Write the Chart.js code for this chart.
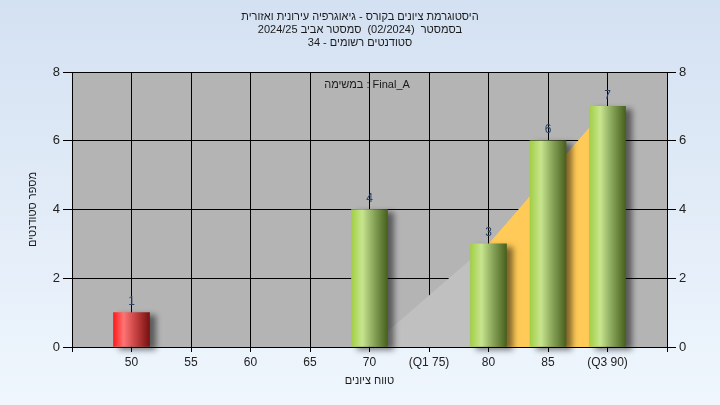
<!DOCTYPE html>
<html><head><meta charset="utf-8">
<script src="https://cdn.jsdelivr.net/npm/chart.js@4"></script>
<style>html,body{margin:0;padding:0;background:#fff}canvas{display:block}</style>
</head><body>
<canvas id="c" width="720" height="405"></canvas>
<script>
// ---- data ----
const titleLines = ['היסטוגרמת ציונים בקורס - גיאוגרפיה עירונית ואזורית', 'בסמסטר  (02/2024)  סמסטר אביב 2024/25', 'סטודנטים רשומים - 34'];
const seriesLabel = 'במשימה : Final_A';
const xAxisTitle = 'טווח ציונים';
const yAxisTitle = 'מספר סטודנטים';
const gradeValues = [50, 55, 60, 65, 70, 75, 80, 85, 90];
const gradeLabels = ['50', '55', '60', '65', '70', '(Q1 75)', '80', '85', '(Q3 90)'];
const studentCounts = [1, 0, 0, 0, 4, 0, 3, 6, 7];
const failBelow = 55;
const lowerAreaX = [70, 80];
const lowerAreaY = [0, 3];
const upperAreaX = [80, 90];
const upperAreaY = [3, 7];
const yTickValues = [0, 2, 4, 6, 8];

const FONT = "Arial, 'Liberation Sans', 'DejaVu Sans', sans-serif";
const barPoints = gradeValues.map((g, i) => ({x: g, y: studentCounts[i]})).filter(p => p.y > 0);

function barFill(c) {
  const chart = c.chart, xs = chart.scales && chart.scales.x;
  if (c.type !== 'data' || !xs || !c.raw) return '#9c4';
  const cx = xs.getPixelForValue(c.raw.x);
  if (!isFinite(cx)) return '#9c4';
  const g = chart.ctx.createLinearGradient(cx - 18, 0, cx + 18, 0);
  if (c.raw.x < failBelow) {
    g.addColorStop(0, '#ff1c1c'); g.addColorStop(0.28, '#ff7474');
    g.addColorStop(0.6, '#c84444'); g.addColorStop(1, '#781010');
  } else {
    g.addColorStop(0, '#a2cf46'); g.addColorStop(0.3, '#c8e58e');
    g.addColorStop(0.62, '#88a55a'); g.addColorStop(1, '#48601c');
  }
  return g;
}

const bgPlugin = {
  id: 'bg',
  beforeDraw(chart) {
    const c = chart.ctx, a = chart.chartArea;
    c.save();
    const g = c.createLinearGradient(0, 0, 0, chart.height);
    g.addColorStop(0, '#d4e1f2'); g.addColorStop(1, '#eff6fd');
    c.fillStyle = g; c.fillRect(0, 0, chart.width, chart.height);
    c.fillStyle = '#b4b4b4';
    c.fillRect(a.left, a.top, a.right - a.left, a.bottom - a.top);
    c.restore();
  }
};

const shadowPlugin = {
  id: 'shadow',
  beforeDatasetDraw(chart, args) {
    if (chart.data.datasets[args.index].type === 'bar') {
      const c = chart.ctx; c.save();
      c.shadowColor = 'rgba(0,0,0,0.5)'; c.shadowBlur = 6;
      c.shadowOffsetX = 6; c.shadowOffsetY = 3;
    }
  },
  afterDatasetDraw(chart, args) {
    if (chart.data.datasets[args.index].type === 'bar') chart.ctx.restore();
  }
};

const textPlugin = {
  id: 'texts',
  afterDraw(chart) {
    const c = chart.ctx, a = chart.chartArea, xs = chart.scales.x, ys = chart.scales.y;
    c.save();
    c.direction = 'ltr';
    c.textAlign = 'center'; c.textBaseline = 'middle';
    c.fillStyle = '#1a1a1a';
    c.font = '11px ' + FONT;
    titleLines.forEach((t, i) => c.fillText(t, 360, 17 + i * 13));
    c.fillText(seriesLabel, 367, 85);
    c.fillText(xAxisTitle, (a.left + a.right) / 2, 381);
    c.save();
    c.translate(33, (a.top + a.bottom) / 2);
    c.rotate(-Math.PI / 2);
    c.fillText(yAxisTitle, 0, 0);
    c.restore();
    c.font = '12px ' + FONT;
    c.fillStyle = '#2b4568';
    barPoints.forEach(p => {
      c.fillText(String(p.y), xs.getPixelForValue(p.x), ys.getPixelForValue(p.y) - 11);
    });
    c.restore();
  }
};

const tickFontX = {family: FONT, size: 12};
const tickFontY = {family: FONT, size: 13};

new Chart(document.getElementById('c'), {
  type: 'bar',
  data: {
    datasets: [
      {type: 'bar', data: barPoints, backgroundColor: barFill, borderWidth: 0,
       barThickness: 36, clip: false, order: 0, yAxisID: 'y'},
      {type: 'line', data: lowerAreaX.map((x, i) => ({x, y: lowerAreaY[i]})), fill: 'origin',
       backgroundColor: '#c0c0c0', borderWidth: 0, pointRadius: 0, tension: 0, order: 1, yAxisID: 'y'},
      {type: 'line', data: upperAreaX.map((x, i) => ({x, y: upperAreaY[i]})), fill: 'origin',
       backgroundColor: '#ffca57', borderWidth: 0, pointRadius: 0, tension: 0, order: 1, yAxisID: 'y'}
    ]
  },
  options: {
    responsive: false, animation: false, devicePixelRatio: 1,
    layout: {padding: {top: 72, left: 0, right: 0, bottom: 0}},
    plugins: {legend: {display: false}, tooltip: {enabled: false}, title: {display: false}},
    scales: {
      x: {
        type: 'linear', min: 45, max: 95, offset: false,
        afterBuildTicks(s) { s.ticks = [45].concat(gradeValues, [95]).map(v => ({value: v})); },
        afterFit(s) { s.height = 58; },
        ticks: {
          autoSkip: false, maxRotation: 0, padding: 3, color: '#222', font: tickFontX,
          callback(v) { const i = gradeValues.indexOf(v); return i >= 0 ? gradeLabels[i] : ''; }
        },
        grid: {color: '#000', lineWidth: 1, tickLength: 5, offset: false, drawOnChartArea: true},
        border: {color: '#000', width: 1}
      },
      y: {
        position: 'left', min: 0, max: 8,
        afterBuildTicks(s) { s.ticks = yTickValues.map(v => ({value: v})); },
        afterFit(s) { s.width = 72; },
        ticks: {padding: 3, color: '#222', font: tickFontY},
        grid: {color: '#000', lineWidth: 1, tickLength: 9},
        border: {color: '#000', width: 1}
      },
      y2: {
        position: 'right', min: 0, max: 8,
        afterBuildTicks(s) { s.ticks = yTickValues.map(v => ({value: v})); },
        afterFit(s) { s.width = 53; },
        ticks: {padding: 3, color: '#222', font: tickFontY},
        grid: {color: '#000', lineWidth: 1, tickLength: 9, drawOnChartArea: false},
        border: {color: '#000', width: 1}
      }
    }
  },
  plugins: [bgPlugin, shadowPlugin, textPlugin]
});
</script>
</body></html>
